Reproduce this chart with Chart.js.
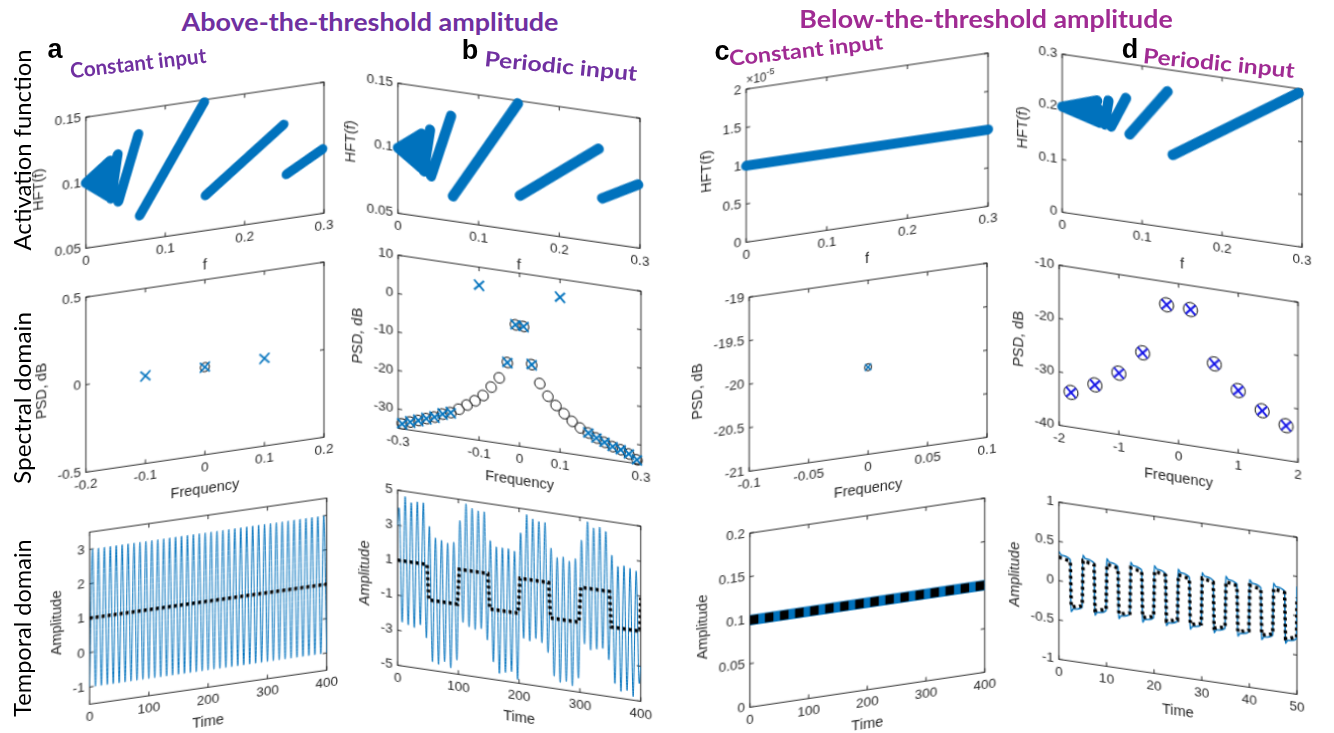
<!DOCTYPE html>
<html>
<head>
<meta charset="utf-8">
<title>Above / below the threshold amplitude</title>
<script src="https://cdn.jsdelivr.net/npm/chart.js@4.4.1/dist/chart.umd.min.js"></script>
<style>
  html, body { margin: 0; background: #fff; }
  body { position: relative; width: 1334px; height: 733px; overflow: hidden; }
  .panel { position: absolute; }
  .panel canvas { display: block; }
  .lab { position: absolute; white-space: nowrap; line-height: 1; }
</style>
</head>
<body>
<script>
// ---------- data ----------
// row 1: activation function HFT(f); every segment is [start, end]
const fTicks = [0, 0.1, 0.2, 0.3];
const hftAboveF = [[0, 0.030], [0, 0.031], [0, 0.031], [0, 0.030], [0, 0.029], [0.032, 0.040], [0.041, 0.066], [0.068, 0.149], [0.151, 0.249], [0.253, 0.298]];
const hftAboveH = [[0.100, 0.114], [0.100, 0.107], [0.100, 0.100], [0.100, 0.094], [0.100, 0.087], [0.085, 0.118], [0.082, 0.131], [0.069, 0.148], [0.077, 0.122], [0.084, 0.099]];
const hftConstF = [[0, 0.3]];
const hftConstH = [[1e-5, 1e-5]];
const hftBelowF = [[0, 0.044], [0, 0.045], [0, 0.046], [0, 0.046], [0.053, 0.058], [0.061, 0.080], [0.084, 0.132], [0.138, 0.296]];
const hftBelowH = [[0.200, 0.222], [0.200, 0.208], [0.200, 0.193], [0.200, 0.180], [0.178, 0.225], [0.176, 0.235], [0.166, 0.259], [0.139, 0.292]];

// row 2: spectral domain (x = input, o = output)
const freqInA = [-0.1, 0, 0.1];
const psdInA = [0, 0, 0];
const freqOutA = [0];
const psdOutA = [0];

const freqOutB = [-0.29, -0.27, -0.25, -0.23, -0.21, -0.19, -0.17, -0.15, -0.13, -0.11, -0.09, -0.07, -0.05, -0.03, -0.01,
                  0.01, 0.03, 0.05, 0.07, 0.09, 0.11, 0.13, 0.15, 0.17, 0.19, 0.21, 0.23, 0.25, 0.27, 0.29];
const psdOutB = [-33.7, -32.9, -32.2, -31.4, -30.7, -29.6, -28.9, -27.7, -26.3, -24.9, -23.2, -20.7, -18.0, -13.7, -3.6,
                 -3.7, -13.3, -17.9, -20.9, -23.0, -24.8, -26.5, -27.9, -28.9, -29.9, -30.7, -31.5, -32.0, -32.8, -34.0];
const freqInB = [-0.29, -0.27, -0.25, -0.23, -0.21, -0.19, -0.17, -0.1, -0.03, -0.01, 0.01, 0.03, 0.1, 0.17, 0.19, 0.21, 0.23, 0.25, 0.27, 0.29];
const psdInB = [-33.7, -32.9, -32.2, -31.4, -30.7, -29.6, -28.9, 5.3, -13.7, -3.6, -3.7, -13.3, 5.3, -28.9, -29.9, -30.7, -31.5, -32.0, -32.8, -34.0];

const freqC = [0];
const psdC = [-20];

const freqD = [-1.8, -1.4, -1, -0.6, -0.2, 0.2, 0.6, 1, 1.4, 1.8];
const psdOutD = [-33.5, -31.4, -28.5, -24.0, -14.3, -14.5, -24.0, -28.3, -31.4, -33.5];
const psdInD = [-33.5, -31.4, -28.5, -24.0, -14.3, -14.5, -24.0, -28.3, -31.4, -33.5];

// row 3: temporal domain
// a: output extremes every 5 time units from t = 0 to 400
const ampA = [-1, 3, -1, 3, -1, 3, -1, 3, -1, 3, -1, 3, -1, 3, -1, 3, -1, 3, -1, 3,
              -1, 3, -1, 3, -1, 3, -1, 3, -1, 3, -1, 3, -1, 3, -1, 3, -1, 3, -1, 3,
              -1, 3, -1, 3, -1, 3, -1, 3, -1, 3, -1, 3, -1, 3, -1, 3, -1, 3, -1, 3,
              -1, 3, -1, 3, -1, 3, -1, 3, -1, 3, -1, 3, -1, 3, -1, 3, -1, 3, -1, 3, -1];
const inputTimeA = [0, 400];
const inputA = [1, 1];

// b: value at t = 0, extremes at t = 2.5, 7.5, ... 397.5, value at t = 400
const ampB = [3.0,
  4.0, -2.5, 4.7, -2.6, 4.4, -2.7, 4.5, -2.5, 4.5, -3.2,
  3.2, -4.5, 2.6, -4.6, 2.5, -4.4, 2.4, -4.7, 2.5, -4.2,
  3.8, -2.0, 4.8, -2.2, 4.6, -2.3, 4.5, -2.2, 4.5, -2.8,
  2.9, -4.0, 2.6, -4.6, 2.6, -4.5, 2.6, -4.4, 2.5, -4.8,
  3.6, -2.4, 4.7, -2.5, 4.5, -2.3, 4.4, -2.5, 4.4, -3.0,
  3.0, -4.3, 2.5, -4.6, 2.6, -4.5, 2.4, -4.7, 2.6, -4.2,
  3.7, -2.2, 4.8, -2.5, 4.5, -2.4, 4.6, -2.3, 4.4, -2.9,
  3.1, -4.2, 2.5, -4.6, 2.6, -4.5, 2.5, -4.8, 2.4, -4.0,
  -3.0];
const inputTimeB = [0, 48.5, 50, 51.5, 98.5, 100, 101.5, 148.5, 150, 151.5, 198.5, 200, 201.5,
                    248.5, 250, 251.5, 298.5, 300, 301.5, 348.5, 350, 351.5, 398.5, 400];
const inputB = [1, 1, 0, -1, -1, 0, 1, 1, 0, -1, -1, 0, 1, 1, 0, -1, -1, 0, 1, 1, 0, -1, -1, 0.9];

const timeC = [0, 400];
const ampC = [0.1, 0.1];
const inputC = [0.1, 0.1];

const timeD = [0, 0.6, 2.4, 2.55, 3.1, 4.9, 5.05, 5.6, 7.4, 7.55, 8.1, 9.9,
  10.05, 10.6, 12.4, 12.55, 13.1, 14.9, 15.05, 15.6, 17.4, 17.55, 18.1, 19.9,
  20.05, 20.6, 22.4, 22.55, 23.1, 24.9, 25.05, 25.6, 27.4, 27.55, 28.1, 29.9,
  30.05, 30.6, 32.4, 32.55, 33.1, 34.9, 35.05, 35.6, 37.4, 37.55, 38.1, 39.9,
  40.05, 40.6, 42.4, 42.55, 43.1, 44.9, 45.05, 45.6, 47.4, 47.55, 48.1, 49.9, 50];
const ampD = [0.37, 0.33, 0.29, -0.37, -0.33, -0.29, 0.37, 0.33, 0.29, -0.37, -0.33, -0.29,
  0.37, 0.33, 0.29, -0.37, -0.33, -0.29, 0.37, 0.33, 0.29, -0.37, -0.33, -0.29,
  0.37, 0.33, 0.29, -0.37, -0.33, -0.29, 0.37, 0.33, 0.29, -0.37, -0.33, -0.29,
  0.37, 0.33, 0.29, -0.37, -0.33, -0.29, 0.37, 0.33, 0.29, -0.37, -0.33, -0.29,
  0.37, 0.33, 0.29, -0.37, -0.33, -0.29, 0.37, 0.33, 0.29, -0.37, -0.33, -0.29, 0.37];
const inputTimeD = [0, 2.4, 2.6, 4.9, 5.1, 7.4, 7.6, 9.9, 10.1, 12.4, 12.6, 14.9, 15.1, 17.4, 17.6, 19.9,
  20.1, 22.4, 22.6, 24.9, 25.1, 27.4, 27.6, 29.9, 30.1, 32.4, 32.6, 34.9, 35.1, 37.4, 37.6, 39.9,
  40.1, 42.4, 42.6, 44.9, 45.1, 47.4, 47.6, 49.9, 50];
const inputD = [0.30, 0.27, -0.31, -0.28, 0.30, 0.27, -0.31, -0.28, 0.30, 0.27, -0.31, -0.28, 0.30, 0.27, -0.31, -0.28,
  0.30, 0.27, -0.31, -0.28, 0.30, 0.27, -0.31, -0.28, 0.30, 0.27, -0.31, -0.28, 0.30, 0.27, -0.31, -0.28,
  0.30, 0.27, -0.31, -0.28, 0.30, 0.27, -0.31, -0.28, 0.23];

// ---------- helpers ----------
const INK = '#262626';
const BLUE = '#0072BD';
const SANS = "'Liberation Sans', Arial, sans-serif";
const TICK_FONT = { family: SANS, size: 13.5 };
const TITLE_FONT = { family: SANS, size: 14.5 };

const num = v => String(Math.round(v * 1e4) / 1e4);
const pts = (xs, ys) => xs.map((x, i) => ({ x: x, y: ys[i] }));
function segments(F, H) {
  const out = [];
  F.forEach((f, i) => {
    out.push({ x: f[0], y: H[i][0] }, { x: f[1], y: H[i][1] }, { x: f[1], y: null });
  });
  return out;
}
// sampling grids for the temporal traces
const timeA = ampA.map((v, i) => i * 5);
const timeB = ampB.map((v, i) => i === 0 ? 0 : (i === ampB.length - 1 ? 400 : 2.5 + 5 * (i - 1)));

function axis(min, max, vals, title, fmt) {
  return {
    type: 'linear', min: min, max: max,
    afterBuildTicks: s => { s.ticks = vals.map(v => ({ value: v })); },
    grid: { display: false, drawTicks: false },
    border: { display: false },
    ticks: { color: INK, font: TICK_FONT, padding: 5, maxRotation: 0, autoSkip: false, callback: fmt || num },
    title: { display: true, text: title, color: INK, font: TITLE_FONT, padding: { top: 0, bottom: 2 } }
  };
}

// matlab-like box with inward ticks
const boxPlugin = {
  id: 'box',
  beforeDatasetsDraw(chart) {
    const { ctx, chartArea: a, scales: { x, y } } = chart;
    ctx.save();
    ctx.strokeStyle = INK;
    ctx.lineWidth = 1;
    ctx.strokeRect(a.left, a.top, a.right - a.left, a.bottom - a.top);
    ctx.beginPath();
    x.ticks.forEach(t => {
      const px = x.getPixelForValue(t.value);
      ctx.moveTo(px, a.bottom); ctx.lineTo(px, a.bottom - 4);
      ctx.moveTo(px, a.top); ctx.lineTo(px, a.top + 4);
    });
    y.ticks.forEach(t => {
      const py = y.getPixelForValue(t.value);
      ctx.moveTo(a.left, py); ctx.lineTo(a.left + 4, py);
      ctx.moveTo(a.right, py); ctx.lineTo(a.right - 4, py);
    });
    ctx.stroke();
    ctx.restore();
  }
};

const expPlugin = {
  id: 'exp',
  afterDraw(chart) {
    const { ctx, chartArea: a } = chart;
    ctx.save();
    ctx.fillStyle = INK;
    ctx.font = '12px ' + SANS;
    ctx.fillText('\u00d710', a.left, a.top - 5);
    const w = ctx.measureText('\u00d710').width;
    ctx.font = '9px ' + SANS;
    ctx.fillText('-5', a.left + w, a.top - 11);
    ctx.restore();
  }
};

const thick = data => ({ data: data, showLine: true, borderColor: BLUE, borderWidth: 10, borderCapStyle: 'round',
  borderJoinStyle: 'round', pointRadius: 0, clip: false });
const xMark = (data, color, r, w) => ({ data: data, showLine: false, pointStyle: 'crossRot', pointRadius: r,
  borderColor: color, pointBorderColor: color, pointBorderWidth: w, pointBackgroundColor: color, clip: false });
const oMark = (data, r) => ({ data: data, showLine: false, pointStyle: 'circle', pointRadius: r,
  borderColor: '#000', pointBorderColor: '#000', pointBorderWidth: 1, pointBackgroundColor: 'rgba(0,0,0,0)', clip: false });
const trace = (data, color, width, dash, smooth) => ({ data: data, showLine: true, borderColor: color, borderWidth: width,
  borderDash: dash || [], borderCapStyle: 'butt', pointRadius: 0, cubicInterpolationMode: smooth ? 'monotone' : 'default' });

function makePanel(g, p) {
  const pw = g.R - g.L, ph = g.B - g.T;
  const div = document.createElement('div');
  div.className = 'panel';
  document.body.appendChild(div);
  let w = pw + 90, h = ph + 70, chart = null;
  for (let pass = 0; pass < 2; pass++) {
    if (chart) { chart.destroy(); div.innerHTML = ''; }
    const cv = document.createElement('canvas');
    cv.width = w; cv.height = h;
    cv.style.width = w + 'px'; cv.style.height = h + 'px';
    div.appendChild(cv);
    chart = new Chart(cv, {
      type: 'scatter',
      data: { datasets: p.datasets() },
      options: {
        responsive: false, maintainAspectRatio: false, animation: false, events: [],
        layout: { padding: { top: p.padTop || 12, right: 16, left: 2, bottom: 2 } },
        plugins: { legend: { display: false }, tooltip: { enabled: false } },
        scales: { x: p.x(), y: p.y() }
      },
      plugins: [boxPlugin].concat(p.extra || [])
    });
    const a = chart.chartArea;
    w += pw - (a.right - a.left);
    h += ph - (a.bottom - a.top);
  }
  const a = chart.chartArea;
  div.style.left = (g.L - a.left) + 'px';
  div.style.top = (g.T - a.top) + 'px';
  div.style.transformOrigin = a.left + 'px ' + a.top + 'px';
  div.style.transform = 'skewY(' + Math.atan(g.S / pw) + 'rad)';
}

// text placed by centre; size sets the height, width (if given) squeezes to the measured span
function label(text, o) {
  const el = document.createElement('div');
  el.className = 'lab';
  el.textContent = text;
  el.style.fontFamily = o.family;
  el.style.fontWeight = o.weight || 400;
  el.style.color = o.color || '#000';
  el.style.fontSize = o.size + 'px';
  document.body.appendChild(el);
  const sx = o.width ? o.width / el.offsetWidth : 1;
  el.style.left = o.x + 'px';
  el.style.top = o.y + 'px';
  el.style.transform = 'translate(-50%, -50%) rotate(' + (o.rot || 0) + 'deg) scaleX(' + sx + ')';
}

// ---------- panels ----------
const yAbove = () => axis(0.05, 0.15, [0.05, 0.1, 0.15], 'HFT(f)');
const xF = () => axis(0, 0.3, fTicks, 'f');

makePanel({ L: 86, R: 324, T: 117, B: 248, S: -35 }, {
  x: xF, y: yAbove, datasets: () => [thick(segments(hftAboveF, hftAboveH))]
});
makePanel({ L: 398, R: 640, T: 83, B: 213, S: 35 }, {
  x: xF, y: yAbove, datasets: () => [thick(segments(hftAboveF, hftAboveH))]
});
makePanel({ L: 746, R: 988, T: 89, B: 242, S: -36 }, {
  x: xF, y: () => axis(0, 2e-5, [0, 0.5e-5, 1e-5, 1.5e-5, 2e-5], 'HFT(f)', v => num(v / 1e-5)),
  datasets: () => [thick(segments(hftConstF, hftConstH))], padTop: 22, extra: [expPlugin]
});
makePanel({ L: 1062, R: 1302, T: 54, B: 212, S: 35 }, {
  x: xF, y: () => axis(0, 0.3, [0, 0.1, 0.2, 0.3], 'HFT(f)'),
  datasets: () => [thick(segments(hftBelowF, hftBelowH))]
});

makePanel({ L: 86, R: 324, T: 297, B: 472, S: -35 }, {
  x: () => axis(-0.2, 0.2, [-0.2, -0.1, 0, 0.1, 0.2], 'Frequency'),
  y: () => axis(-0.5, 0.5, [-0.5, 0, 0.5], 'PSD, dB'),
  datasets: () => [xMark(pts(freqInA, psdInA), BLUE, 7, 1.7), oMark(pts(freqOutA, psdOutA), 4.5)]
});
makePanel({ L: 398, R: 641, T: 255, B: 428, S: 36 }, {
  x: () => axis(-0.3, 0.3, [-0.3, -0.1, 0, 0.1, 0.3], 'Frequency'),
  y: () => axis(-35, 10, [-30, -20, -10, 0, 10], 'PSD, dB'),
  datasets: () => [xMark(pts(freqInB, psdInB), BLUE, 7, 1.9), oMark(pts(freqOutB, psdOutB), 5.2)]
});
makePanel({ L: 749, R: 987, T: 297, B: 471, S: -34 }, {
  x: () => axis(-0.1, 0.1, [-0.1, -0.05, 0, 0.05, 0.1], 'Frequency'),
  y: () => axis(-21, -19, [-21, -20.5, -20, -19.5, -19], 'PSD, dB'),
  datasets: () => [xMark(pts(freqC, psdC), BLUE, 4.5, 1.5), oMark(pts(freqC, psdC), 3.5)]
});
makePanel({ L: 1059, R: 1298, T: 265, B: 425, S: 37 }, {
  x: () => axis(-2, 2, [-2, -1, 0, 1, 2], 'Frequency'),
  y: () => axis(-40, -10, [-40, -30, -20, -10], 'PSD, dB'),
  datasets: () => [xMark(pts(freqD, psdInD), '#1414E6', 7, 2), oMark(pts(freqD, psdOutD), 7)]
});

const xTime = () => axis(0, 400, [0, 100, 200, 300, 400], 'Time');
makePanel({ L: 89, R: 326, T: 532, B: 704, S: -34 }, {
  x: xTime, y: () => axis(-1.5, 3.5, [-1, 0, 1, 2, 3], 'Amplitude'),
  datasets: () => [trace(pts(inputTimeA, inputA), '#000', 3.5, [3, 3]), trace(pts(timeA, ampA), BLUE, 1, null, true)]
});
makePanel({ L: 397, R: 640, T: 490, B: 665, S: 36 }, {
  x: xTime, y: () => axis(-5, 5, [-5, -3, -1, 1, 3, 5], 'Amplitude'),
  datasets: () => [trace(pts(inputTimeB, inputB), '#000', 3.5, [3, 3]), trace(pts(timeB, ampB), BLUE, 1, null, true)]
});
makePanel({ L: 750, R: 985, T: 533, B: 707, S: -35 }, {
  x: xTime, y: () => axis(0, 0.2, [0, 0.05, 0.1, 0.15, 0.2], 'Amplitude'),
  datasets: () => [trace(pts(timeC, inputC), '#000', 9, [8.5, 6.5]), trace(pts(timeC, ampC), BLUE, 10.5)]
});
makePanel({ L: 1059, R: 1297, T: 502, B: 659, S: 35 }, {
  x: () => axis(0, 50, [0, 10, 20, 30, 40, 50], 'Time'),
  y: () => axis(-1, 1, [-1, -0.5, 0, 0.5, 1], 'Amplitude'),
  datasets: () => [trace(pts(inputTimeD, inputD), '#000', 3.5, [3, 3.5]), trace(pts(timeD, ampD), BLUE, 1.5, null, true)]
});

// ---------- titles and labels ----------
const LATO = "Lato, 'Open Sans', sans-serif";
label('Above-the-threshold amplitude', { family: LATO, weight: 700, color: '#7030A0', x: 370, y: 22, size: 24, width: 377 });
label('Below-the-threshold amplitude', { family: LATO, weight: 700, color: '#A02B93', x: 986, y: 19, size: 24, width: 374 });
label('Constant input', { family: LATO, weight: 700, color: '#7030A0', x: 138, y: 62, size: 21, width: 137, rot: -6.5 });
label('Periodic input', { family: LATO, weight: 700, color: '#7030A0', x: 561, y: 65, size: 21, width: 153, rot: 5.6 });
label('Constant input', { family: LATO, weight: 700, color: '#A02B93', x: 806, y: 49, size: 21, width: 155, rot: -6.2 });
label('Periodic input', { family: LATO, weight: 700, color: '#A02B93', x: 1219, y: 62, size: 21, width: 152, rot: 5.6 });
label('a', { family: SANS, weight: 700, x: 55, y: 49, size: 27 });
label('b', { family: SANS, weight: 700, x: 470, y: 50, size: 27 });
label('c', { family: SANS, weight: 700, x: 722, y: 51, size: 27 });
label('d', { family: SANS, weight: 700, x: 1130, y: 49, size: 27 });
label('Activation function', { family: LATO, x: 22, y: 150, size: 23, width: 201, rot: -90 });
label('Spectral domain', { family: LATO, x: 22, y: 398, size: 23, width: 172, rot: -90 });
label('Temporal domain', { family: LATO, x: 22, y: 628, size: 23, width: 177, rot: -90 });
</script>
</body>
</html>
